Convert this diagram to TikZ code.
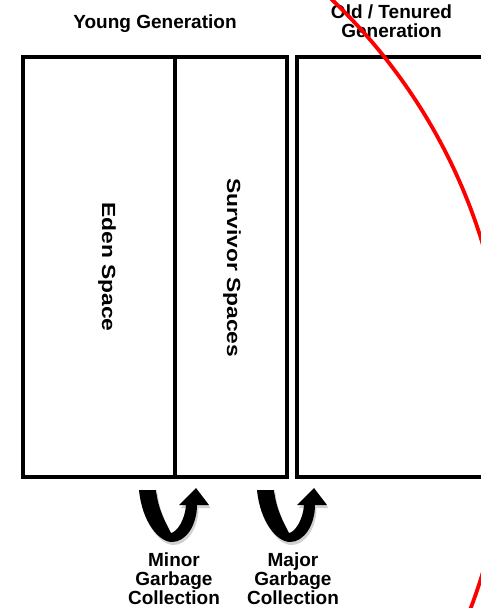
\documentclass[tikz,border=0pt]{standalone}
\usepackage{fontspec}
\setmainfont{Liberation Sans}
\usepackage{graphicx}
\begin{document}
\begin{tikzpicture}[x=1pt,y=-1pt,
  box/.style={line width=4pt, draw=black},
  head/.style={font=\fontsize{19}{19}\selectfont\bfseries, align=center, inner sep=0pt},
  vert/.style={font=\fontsize{19}{19}\selectfont\bfseries, inner sep=0pt, rotate=-90},
  redring/.style={draw=red, line width=3.8pt},
  gcarrow/.pic={
    \fill[black!40, opacity=0.45, shift={(1.5,3)}]
      (0,0) .. controls (3,32) and (20,52) .. (33,52)
      .. controls (47,52) and (58,35) .. (58,15) -- (70,15) -- (57,-2) -- (40,15) -- (47,15)
      .. controls (46,30) and (38,42) .. (32,43)
      .. controls (28,35) and (19,20) .. (17,0) -- cycle;
    \fill[black]
      (0,0) .. controls (3,32) and (20,52) .. (33,52)
      .. controls (47,52) and (58,35) .. (58,15) -- (70,15) -- (57,-2) -- (40,15) -- (47,15)
      .. controls (46,30) and (38,42) .. (32,43)
      .. controls (28,35) and (19,20) .. (17,0) -- cycle;
  }]
\useasboundingbox (0,0) rectangle (481,608);
\fill[white] (0,0) rectangle (481,608);
% young generation box
\draw[box] (23,57) rectangle (286.5,477);
\draw[box] (175,57) -- (175,477);
% old generation box (open to the right)
\draw[box] (481,57) -- (297,57) -- (297,477) -- (481,477);
% texts
\node[head, anchor=base] (young) at (155,28) {Young Generation};
\node[head, anchor=north] (old) at (391.5,4.5) {Old / Tenured\\Generation};
\node[vert] (eden) at (107,267) {\scalebox{1.2}[1]{Eden Space}};
\node[vert] (surv) at (232,268) {\scalebox{1.2}[1]{Survivor Spaces}};
% arrows
\pic at (139,490) {gcarrow};
\pic at (257,490) {gcarrow};
\node[head, anchor=north] (minor) at (174,553) {Minor\\Garbage\\Collection};
\node[head, anchor=north] (major) at (293,553) {Major\\Garbage\\Collection};
% red ring
\begin{scope}
\clip (0,0) rectangle (481,608);
\draw[redring] (-58,408.5) circle[radius=565];
\end{scope}
\end{tikzpicture}
\end{document}
